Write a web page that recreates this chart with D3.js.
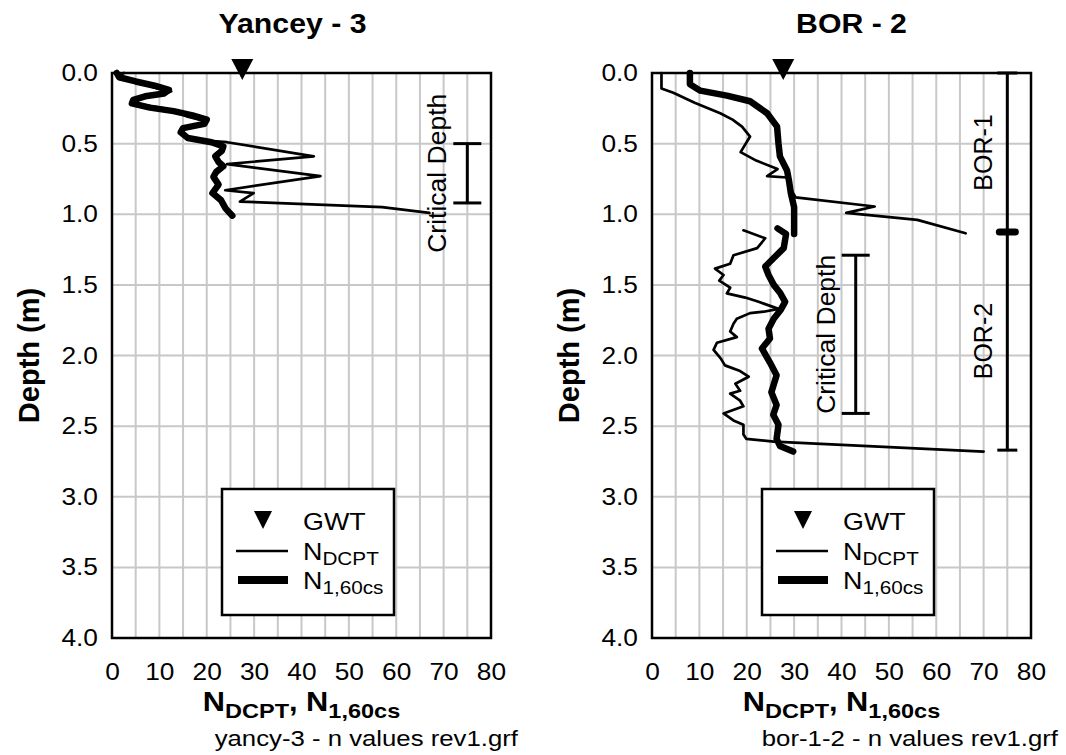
<!DOCTYPE html>
<html>
<head>
<meta charset="utf-8">
<script src="https://cdn.jsdelivr.net/npm/d3@7"></script>
<style>
    body { margin: 0; background: #fff; }
    svg text { font-family: "Liberation Sans", Arial, sans-serif; fill: #000; }
</style>
</head>
<body>
<div id="chart"></div>
<script>
// axis ticks
let nTicks = [0, 10, 20, 30, 40, 50, 60, 70, 80];
let depthTicks = [0, 0.5, 1, 1.5, 2, 2.5, 3, 3.5, 4];

// yancey-3 readings (depth in m, blow count)
let yanceyDcptDepth = [0.00,0.02,0.05,0.08,0.11,0.13,0.15,0.17,0.20,0.22,0.25,0.28,0.31,0.34,0.37,0.39,0.43,0.47,0.49,0.59,0.645,0.73,0.83,0.85,0.91,0.95,0.99];
let yanceyDcpt      = [2.5,1.5,3,7,9.5,12.5,11,7,4.5,5.5,11,14,16,19.5,19,15.5,14.5,16,24.3,42.6,24.3,44,23.9,29.9,27,57,67];
let yanceyN160Depth = [0.00,0.03,0.06,0.09,0.12,0.145,0.165,0.19,0.215,0.245,0.27,0.30,0.33,0.36,0.39,0.42,0.46,0.49,0.52,0.55,0.59,0.63,0.66,0.70,0.735,0.79,0.85,0.90,0.96,1.01];
let yanceyN160      = [1,1.5,5,9,12,11,7,4.5,4.2,8,13,17,20,19.5,15,14.5,16,21,23.5,23.2,21.8,22.5,23.5,22,21.4,22.5,21.2,23,24,25.4];
let yanceyGwt = 27.5;
let yanceyCritical = [0.5, 0.92];

// bor-1 / bor-2 readings
let bor1DcptDepth = [0,0.11,0.14,0.21,0.285,0.33,0.38,0.45,0.56,0.62,0.68,0.73,0.74,0.82,0.88,0.945,0.99,1.04,1.135];
let bor1Dcpt      = [2,2,4.5,9,14.4,17,19,20.7,18.7,22,26.5,24.3,28.5,29.2,30.3,47,41,56,66.2];
let bor1N160Depth = [0,0.08,0.125,0.16,0.2,0.285,0.38,0.5,0.59,0.69,0.76,0.85,0.95,1.14];
let bor1N160      = [8,8,10.2,15.8,20.7,24.3,26.4,26.7,27,28.5,28.9,29.3,30,30];
let bor2DcptDepth = [1.114,1.17,1.24,1.29,1.35,1.385,1.43,1.47,1.52,1.56,1.59,1.62,1.67,1.69,1.70,1.74,1.775,1.83,1.87,1.91,1.96,2.02,2.07,2.11,2.15,2.2,2.25,2.27,2.32,2.36,2.41,2.46,2.49,2.56,2.59,2.61,2.68];
let bor2Dcpt      = [19.3,23.9,22.2,17.2,16.5,13.3,15.1,14.2,16.5,15.8,19.7,22.5,26.7,23.6,20.7,17.9,17.2,16.5,17.9,13.7,13,14.5,15.4,18.6,20.4,17.6,18.6,16.5,18.6,19.3,15.1,17.2,19.3,19.3,19.9,25.7,70];
let bor2N160Depth = [1.10,1.14,1.18,1.24,1.31,1.37,1.43,1.5,1.56,1.62,1.68,1.74,1.81,1.88,1.95,2.05,2.14,2.26,2.35,2.42,2.49,2.59,2.64,2.68];
let bor2N160      = [26.5,28.3,28.1,27.8,25.7,23.9,24.6,25.7,27.1,28.1,27.1,25.7,24.6,24.9,23.2,24.9,26.3,25.2,26.3,25.6,26.7,26.3,27,29.8];
let borGwt = 27.7;
let borCritical = [1.29, 2.41];
let borBounds = [0, 1.126, 2.67];
let borNames = ["BOR-1", "BOR-2"];

function zipSeries(depths, values) {
    return depths.map(function(d, i) { return [d, values[i]]; });
}

let panels = [
    {title: "Yancey - 3", file: "yancy-3 - n values rev1.grf", left: 112, titleShift: -9,
     dcpt: [zipSeries(yanceyDcptDepth, yanceyDcpt)],
     n160: [zipSeries(yanceyN160Depth, yanceyN160)],
     gwt: yanceyGwt, critical: yanceyCritical, critN: 75, critLabelN: 68.5, bounds: null},
    {title: "BOR - 2", file: "bor-1-2 - n values rev1.grf", left: 652, titleShift: 10,
     dcpt: [zipSeries(bor1DcptDepth, bor1Dcpt), zipSeries(bor2DcptDepth, bor2Dcpt)],
     n160: [zipSeries(bor1N160Depth, bor1N160), zipSeries(bor2N160Depth, bor2N160)],
     gwt: borGwt, critical: borCritical, critN: 43, critLabelN: 36.6, bounds: borBounds}
];

let width = 1066, height = 755;
let plotW = 379, plotTop = 73, plotBottom = 638;
let sx = 1.12;  // source figure text is a bit wider than arial

let svg = d3.select("#chart").append("svg")
    .attr("width", width)
    .attr("height", height);

let y = d3.scaleLinear().domain([0, 4]).range([plotTop, plotBottom]);

panels.forEach(function(p) { drawPanel(p); });

function wideText(g, x, yy, str, size, weight, anchor, rotate) {
    let t = g.append("text")
        .attr("transform", "translate(" + x + "," + yy + ")" + (rotate ? " rotate(-90)" : " scale(" + sx + ",1)"))
        .style("font-size", size + "px")
        .style("font-weight", weight || "normal")
        .attr("text-anchor", anchor || "start");
    if (str !== null) t.text(str);
    return t;
}

function subLabel(t, main, sub, subSize, drop) {  // N with subscript, as tspans
    t.append("tspan").text(main);
    t.append("tspan").text(sub).style("font-size", subSize + "px").attr("dy", drop);
}

function drawPanel(p) {
    let x = d3.scaleLinear().domain([0, 80]).range([p.left, p.left + plotW]);
    let g = svg.append("g");

    // grid every 5 blows and every 0.5 m
    g.selectAll(".vgrid").data(d3.range(5, 80, 5)).enter().append("line")
        .attr("x1", function(d) { return x(d); }).attr("x2", function(d) { return x(d); })
        .attr("y1", plotTop).attr("y2", plotBottom)
        .attr("stroke", "#c8c8c8").attr("stroke-width", 2);
    g.selectAll(".hgrid").data(d3.range(0.5, 4, 0.5)).enter().append("line")
        .attr("y1", function(d) { return y(d); }).attr("y2", function(d) { return y(d); })
        .attr("x1", x(0)).attr("x2", x(80))
        .attr("stroke", "#c8c8c8").attr("stroke-width", 2);

    // axes, no tick marks
    let xAxis = g.append("g").attr("transform", "translate(0," + plotBottom + ")")
        .call(d3.axisBottom(x).tickValues(nTicks).tickSize(0).tickPadding(25).tickFormat(d3.format("d")));
    let yAxis = g.append("g").attr("transform", "translate(" + p.left + ",0)")
        .call(d3.axisLeft(y).tickValues(depthTicks).tickSize(0).tickPadding(12.5).tickFormat(d3.format(".1f")));
    [xAxis, yAxis].forEach(function(a) {
        a.select(".domain").remove();
        a.selectAll("text")
            .attr("transform", "scale(" + sx + ",1)")
            .style("font-size", "23.5px")
            .style("font-family", "'Liberation Sans', Arial, sans-serif")
            .attr("fill", "#000");
    });

    let line = d3.line()
        .x(function(d) { return x(d[1]); })
        .y(function(d) { return y(d[0]); });

    p.dcpt.forEach(function(s) {
        g.append("path").attr("d", line(s))
            .attr("fill", "none").attr("stroke", "#000").attr("stroke-width", 2.7)
            .attr("stroke-linejoin", "round").attr("stroke-linecap", "round");
    });
    p.n160.forEach(function(s) {
        g.append("path").attr("d", line(s))
            .attr("fill", "none").attr("stroke", "#000").attr("stroke-width", 6.5)
            .attr("stroke-linejoin", "round").attr("stroke-linecap", "round");
    });

    // critical depth bracket
    let cx = x(p.critN);
    g.append("line").attr("x1", cx).attr("x2", cx)
        .attr("y1", y(p.critical[0])).attr("y2", y(p.critical[1]))
        .attr("stroke", "#000").attr("stroke-width", 3);
    p.critical.forEach(function(d) {
        g.append("line").attr("x1", cx - 14).attr("x2", cx + 14)
            .attr("y1", y(d)).attr("y2", y(d))
            .attr("stroke", "#000").attr("stroke-width", 3);
    });
    wideText(g, x(p.critLabelN), y((p.critical[0] + p.critical[1]) / 2), "Critical Depth", 26.5, "normal", "middle", true)
        .attr("dy", "0.35em");

    // boring limits on the right side
    if (p.bounds) {
        let bx = x(75);
        g.append("line").attr("x1", bx).attr("x2", bx)
            .attr("y1", y(p.bounds[0])).attr("y2", y(p.bounds[p.bounds.length - 1]))
            .attr("stroke", "#000").attr("stroke-width", 3);
        p.bounds.forEach(function(d, i) {
            let mid = i > 0 && i < p.bounds.length - 1;
            g.append("line").attr("x1", bx - (mid ? 8 : 10)).attr("x2", bx + (mid ? 8 : 10))
                .attr("y1", y(d)).attr("y2", y(d))
                .attr("stroke", "#000").attr("stroke-width", mid ? 7 : 3)
                .attr("stroke-linecap", mid ? "round" : "butt");
        });
        borNames.forEach(function(name, i) {
            wideText(g, x(70), y((p.bounds[i] + p.bounds[i + 1]) / 2), name, 25, "normal", "middle", true)
                .attr("dy", "0.35em");
        });
    }

    // frame
    g.append("rect").attr("x", x(0)).attr("y", plotTop)
        .attr("width", plotW).attr("height", plotBottom - plotTop)
        .attr("fill", "none").attr("stroke", "#000").attr("stroke-width", 2.5);

    // water table marker
    let gx = x(p.gwt);
    g.append("path")
        .attr("d", "M" + (gx - 11) + "," + (plotTop - 14) + "L" + (gx + 11) + "," + (plotTop - 14) + "L" + gx + "," + (plotTop + 7) + "Z")
        .attr("fill", "#000");

    // legend
    let lx = p.left + 110, ly = 489;
    g.append("rect").attr("x", lx).attr("y", ly).attr("width", 172).attr("height", 126)
        .attr("fill", "#fff").attr("stroke", "#000").attr("stroke-width", 2.5);
    g.append("path")
        .attr("d", "M" + (lx + 32) + "," + (ly + 22) + "L" + (lx + 50) + "," + (ly + 22) + "L" + (lx + 41) + "," + (ly + 40) + "Z")
        .attr("fill", "#000");
    wideText(g, lx + 81, ly + 41, "GWT", 24);
    g.append("line").attr("x1", lx + 14).attr("x2", lx + 66).attr("y1", ly + 62).attr("y2", ly + 62)
        .attr("stroke", "#000").attr("stroke-width", 2.7);
    subLabel(wideText(g, lx + 81, ly + 71, null, 24), "N", "DCPT", 18.5, 5);
    g.append("line").attr("x1", lx + 16).attr("x2", lx + 66).attr("y1", ly + 91).attr("y2", ly + 91)
        .attr("stroke", "#000").attr("stroke-width", 8);
    subLabel(wideText(g, lx + 81, ly + 100, null, 24), "N", "1,60cs", 18.5, 5);

    // titles
    let mid = p.left + plotW / 2;
    wideText(g, mid + p.titleShift, 33, p.title, 27, "bold", "middle");
    let xt = wideText(g, mid, 711, null, 27.5, "bold", "middle");
    xt.append("tspan").text("N");
    xt.append("tspan").text("DCPT").style("font-size", "21px").attr("dy", 7);
    xt.append("tspan").text(", N").attr("dy", -7);
    xt.append("tspan").text("1,60cs").style("font-size", "21px").attr("dy", 7);
    wideText(g, p.left + plotW + 27, 746, p.file, 23, "normal", "end");
    wideText(g, p.left - 83, (plotTop + plotBottom) / 2, "Depth (m)", 29, "bold", "middle", true)
        .attr("dy", "0.35em");
}
</script>
</body>
</html>
